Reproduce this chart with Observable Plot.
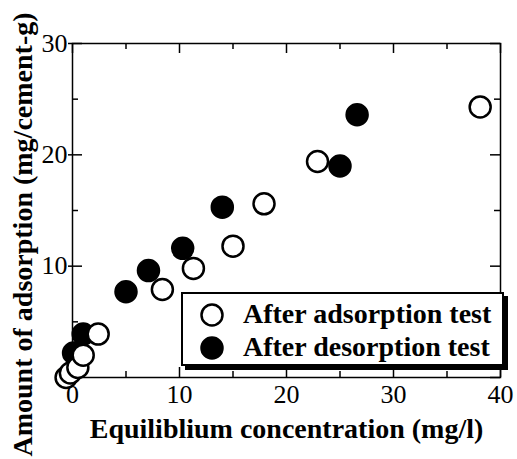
<!DOCTYPE html>
<html><head><meta charset="utf-8">
<script src="https://cdn.jsdelivr.net/npm/d3@7"></script>
<script src="https://cdn.jsdelivr.net/npm/@observablehq/plot@0.6"></script>
<style>
body{margin:0;background:#fff;}
#wrap{position:relative;width:517px;height:459px;}
#wrap svg text{font-family:'Liberation Serif','Times New Roman',serif;}
#legend{position:absolute;left:181px;top:292px;width:323px;height:74px;box-sizing:border-box;border:2px solid #000;background:#fff;box-shadow:4px 4px 0 #000;}
#legend svg{position:absolute;left:0;top:0;}
</style></head><body><div id="wrap"></div>
<script>
// Data
const seriesNames = ["After adsorption test", "After desorption test"];
const adsX = [-0.6, -0.2, 0.5, 1.0, 2.4, 8.4, 11.3, 15.0, 17.9, 22.9, 38.1];
const adsY = [0.0, 0.4, 0.9, 2.0, 3.9, 7.9, 9.8, 11.8, 15.6, 19.4, 24.3];
const desX = [0.1, 1.0, 5.0, 7.1, 10.3, 14.0, 25.0, 26.6];
const desY = [2.2, 3.9, 7.7, 9.6, 11.6, 15.3, 19.0, 23.6];
const xMajorTicks = [0, 10, 20, 30, 40];
const xMinorTicks = [5, 15, 25, 35];
const yMajorTicks = [0, 10, 20, 30];
const yMinorTicks = [5, 15, 25];
const xLabel = "Equiliblium concentration (mg/l)";
const yLabel = "Amount of adsorption (mg/cement-g)";

const ads = adsX.map((x, i) => ({x, y: adsY[i]}));
const des = desX.map((x, i) => ({x, y: desY[i]}));

const W = 517, H = 459;
const mL = 72, mR = 17, mT = 43, mB = 82;
const fw = W - mL - mR, fh = H - mT - mB;
const font = "'Liberation Serif', 'Times New Roman', serif";
const tk = {stroke: "black", strokeOpacity: 1, strokeWidth: 1.5};

const plot = Plot.plot({
  width: W, height: H,
  marginLeft: mL, marginRight: mR, marginTop: mT, marginBottom: mB,
  x: {domain: [0, 40]},
  y: {domain: [0, 30]},
  style: {fontFamily: font, fontSize: "26px", color: "black", background: "white"},
  marks: [
    Plot.frame({stroke: "black", strokeWidth: 1.5}),
    Plot.gridX(xMajorTicks, {...tk, insetTop: fh - 10}),
    Plot.gridX(xMajorTicks, {...tk, insetBottom: fh - 10}),
    Plot.gridX(xMinorTicks, {...tk, insetTop: fh - 6}),
    Plot.gridX(xMinorTicks, {...tk, insetBottom: fh - 6}),
    Plot.gridY(yMajorTicks, {...tk, insetRight: fw - 10}),
    Plot.gridY(yMajorTicks, {...tk, insetLeft: fw - 10}),
    Plot.gridY(yMinorTicks, {...tk, insetRight: fw - 6}),
    Plot.gridY(yMinorTicks, {...tk, insetLeft: fw - 6}),
    Plot.axisX(xMajorTicks, {tickSize: 0, tickPadding: 7, fontSize: 26, fontFamily: font, label: null}),
    Plot.axisY(yMajorTicks, {tickSize: 4, tickPadding: 1, strokeWidth: 1.5, fontSize: 26, fontFamily: font, label: null}),
    Plot.text([xLabel], {text: d => d, frameAnchor: "bottom", textAnchor: "middle", lineAnchor: "middle", dy: 52, fontSize: 28, fontFamily: font, fontWeight: "bold"}),
    Plot.text([yLabel], {text: d => d, frameAnchor: "left", textAnchor: "middle", lineAnchor: "middle", rotate: -90, dx: -49, dy: 24, fontSize: 28, fontFamily: font, fontWeight: "bold"}),
    Plot.dot(des.filter(d => d.x < 20), {x: "x", y: "y", r: 10.5, fill: "black", stroke: "black", strokeWidth: 2.5}),
    Plot.dot(ads, {x: "x", y: "y", r: 10.5, fill: "white", stroke: "black", strokeWidth: 2.5}),
    Plot.dot(des.filter(d => d.x >= 20), {x: "x", y: "y", r: 10.5, fill: "black", stroke: "black", strokeWidth: 2.5})
  ]
});

const wrap = document.getElementById("wrap");
wrap.appendChild(plot);

// Legend
const leg = document.createElement("div");
leg.id = "legend";
wrap.appendChild(leg);
const ls = d3.select(leg).append("svg").attr("width", 319).attr("height", 70)
  .style("font-family", font);
const fills = ["white", "black"];
const row = ls.selectAll("g").data(seriesNames).join("g")
  .attr("transform", (d, i) => `translate(0,${i * 33})`);
row.append("circle").attr("cx", 29).attr("cy", 21).attr("r", 10.5)
  .attr("fill", (d, i) => fills[i]).attr("stroke", "black").attr("stroke-width", 2.5);
row.append("text").attr("x", 60).attr("y", 29).attr("font-size", 28).attr("font-weight", "bold")
  .text(d => d);
</script></body></html>
